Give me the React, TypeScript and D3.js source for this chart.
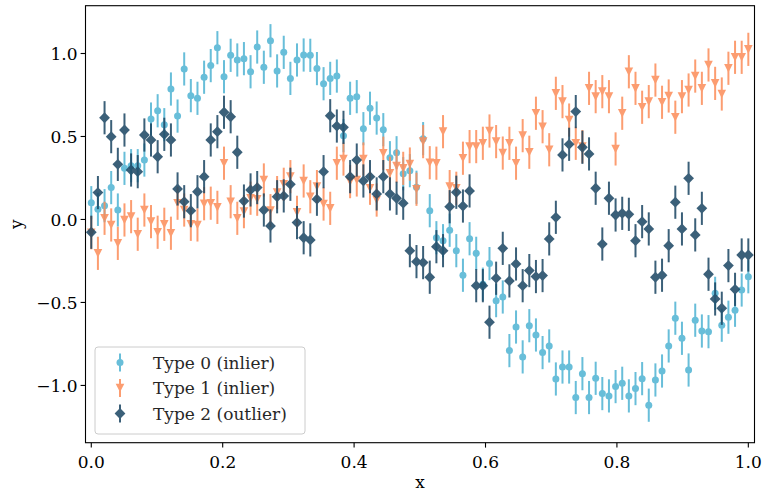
import React from "react";
import * as d3 from "d3";

const N = 100;
const xs: number[] = d3.range(N).map((i) => i / (N - 1));

const type0: number[] = [
  0.101, 0.061, 0.083, 0.192, 0.057, 0.308, 0.324, 0.324, 0.358, 0.605,
  0.655, 0.571, 0.786, 0.623, 0.907, 0.746, 0.730, 0.857, 0.927, 1.035,
  0.860, 0.989, 0.961, 0.969, 0.890, 1.039, 0.917, 1.077, 0.895, 1.007,
  0.850, 0.961, 0.991, 0.989, 0.909, 0.818, 0.850, 0.864, 0.505, 0.730,
  0.740, 0.547, 0.670, 0.611, 0.541, 0.372, 0.402, 0.276, 0.294, 0.194,
  0.487, 0.053, -0.110, -0.128, -0.065, -0.188, -0.336, -0.116, -0.204, -0.39,
  -0.266, -0.489, -0.467, -0.790, -0.648, -0.828, -0.640, -0.696, -0.802, -0.762,
  -0.961, -0.889, -0.889, -1.073, -0.929, -1.073, -0.957, -1.049, -1.063, -1.007,
  -0.987, -1.063, -1.019, -0.959, -1.119, -0.967, -0.913, -0.762, -0.595, -0.716,
  -0.907, -0.607, -0.672, -0.676, -0.445, -0.637, -0.589, -0.547, -0.425, -0.345,
];

const type1: number[] = [
  -0.08, -0.204, 0.007, -0.033, -0.144, -0.003, 0.017, -0.089, 0.057, -0.013,
  -0.077, -0.029, -0.083, 0.098, 0.057, -0.029, -0.033, 0.095, 0.098, 0.073,
  0.339, 0.107, 0.007, 0.047, 0.128, 0.122, 0.238, 0.053, 0.162, 0.212,
  0.258, 0.043, 0.232, 0.137, 0.198, 0.093, 0.067, 0.339, 0.364, 0.228,
  0.238, 0.364, 0.188, 0.117, 0.399, 0.278, 0.322, 0.308, 0.334, 0.182,
  0.469, 0.342, 0.339, 0.529, 0.198, 0.188, 0.369, 0.439, 0.439, 0.459,
  0.533, 0.469, 0.400, 0.459, 0.339, 0.505, 0.405, 0.640, 0.559, 0.420,
  0.760, 0.710, 0.599, 0.459, 0.439, 0.790, 0.740, 0.770, 0.740, 0.425,
  0.640, 0.890, 0.790, 0.676, 0.710, 0.840, 0.706, 0.744, 0.616, 0.740,
  0.780, 0.864, 0.790, 0.931, 0.820, 0.756, 0.911, 0.977, 0.977, 1.025,
];

const type2: number[] = [
  -0.077, 0.162, 0.613, 0.499, 0.332, 0.539, 0.298, 0.288, 0.509, 0.479,
  0.378, 0.513, 0.479, 0.184, 0.107, 0.053, 0.167, 0.258, 0.479, 0.529,
  0.646, 0.619, 0.405, 0.111, 0.178, 0.192, 0.057, -0.039, 0.137, 0.142,
  0.212, -0.019, -0.110, -0.123, 0.122, 0.288, 0.625, 0.563, 0.555, 0.258,
  0.358, 0.232, 0.258, 0.154, 0.258, 0.154, 0.128, 0.098, -0.188, -0.254,
  -0.260, -0.348, -0.164, -0.188, 0.077, 0.164, 0.081, 0.172, -0.399, -0.399,
  -0.619, -0.354, -0.174, -0.370, -0.268, -0.399, -0.308, -0.344, -0.338, -0.117,
  0.013, 0.389, 0.453, 0.650, 0.435, 0.395, 0.188, -0.148, 0.128, 0.027,
  0.037, 0.031, -0.128, -0.013, -0.057, -0.348, -0.336, -0.158, 0.104, -0.057,
  0.248, -0.093, 0.067, -0.330, -0.479, -0.535, -0.278, -0.421, -0.214, -0.214,
];

const yErr = 0.1;
const seriesNames = ["Type 0 (inlier)", "Type 1 (inlier)", "Type 2 (outlier)"];
const xTicks = [0, 0.2, 0.4, 0.6, 0.8, 1.0];
const yTicks = [-1.0, -0.5, 0.0, 0.5, 1.0];

const W = 763;
const H = 492;
const L = 85.5, R = 754.5, T = 5.7, B = 442.7;
const FONT = "'DejaVu Serif', serif";

const colors = ["#4eb3d3", "#fc8d59", "#1a4562"];

const xScale = d3.scaleLinear().domain([-0.0088, 1.0094]).range([L, R]);
const yScale = d3.scaleLinear().domain([-1.345, 1.288]).range([B, T]);

function Marker({ kind, cx, cy, color }: { kind: number; cx: number; cy: number; color: string }) {
  if (kind === 0) return <circle cx={cx} cy={cy} r={3.5} fill={color} />;
  if (kind === 1) {
    const w = 4.3, h = 4.3;
    return <path d={`M${cx},${cy + h}L${cx - w},${cy - h}L${cx + w},${cy - h}Z`} fill={color} />;
  }
  const s = 5.4;
  return <path d={`M${cx},${cy - s}L${cx + s},${cy}L${cx},${cy + s}L${cx - s},${cy}Z`} fill={color} />;
}

function fmt(v: number) {
  const s = Math.abs(v).toFixed(1);
  return v < 0 ? "\u2212" + s : s;
}

export default function App() {
  const all = [type0, type1, type2];
  return (
    <svg width={W} height={H} style={{ position: "absolute", left: 0, top: 0, background: "#fff" }} fontFamily={FONT}>
      <rect x={0} y={0} width={W} height={H} fill="#fff" />
      {all.map((vals, k) => (
        <g key={k} opacity={0.85}>
          {vals.map((v, i) => (
            <line
              key={"e" + i}
              x1={xScale(xs[i])}
              x2={xScale(xs[i])}
              y1={yScale(v - yErr)}
              y2={yScale(v + yErr)}
              stroke={colors[k]}
              strokeWidth={2}
            />
          ))}
          {vals.map((v, i) => (
            <Marker key={"m" + i} kind={k} cx={xScale(xs[i])} cy={yScale(v)} color={colors[k]} />
          ))}
        </g>
      ))}
      <rect x={L} y={T} width={R - L} height={B - T} fill="none" stroke="#000" strokeWidth={1.1} />
      {xTicks.map((t) => (
        <g key={"x" + t}>
          <line x1={xScale(t)} x2={xScale(t)} y1={B} y2={B + 4.9} stroke="#000" strokeWidth={1.1} />
          <text x={xScale(t)} y={B + 25} fontSize={17} textAnchor="middle" fill="#000">
            {fmt(t)}
          </text>
        </g>
      ))}
      {yTicks.map((t) => (
        <g key={"y" + t}>
          <line x1={L - 4.9} x2={L} y1={yScale(t)} y2={yScale(t)} stroke="#000" strokeWidth={1.1} />
          <text x={L - 8} y={yScale(t) + 6.2} fontSize={17} textAnchor="end" fill="#000">
            {fmt(t)}
          </text>
        </g>
      ))}
      <text x={(L + R) / 2} y={488} fontSize={17} textAnchor="middle">x</text>
      <text transform={`translate(22,${(T + B) / 2}) rotate(-90)`} fontSize={17} textAnchor="middle">y</text>
      <g>
        <rect x={95} y={347} width={210} height={87} rx={3} fill="#fff" fillOpacity={0.8} stroke="#ccc" strokeWidth={1} />
        {seriesNames.map((name, k) => {
          const cy = 362.5 + k * 25.5;
          return (
            <g key={name} opacity={0.85}>
              <line x1={120} x2={120} y1={cy - 9} y2={cy + 9} stroke={colors[k]} strokeWidth={2} />
              <Marker kind={k} cx={120} cy={cy} color={colors[k]} />
              <text x={153} y={cy + 6} fontSize={17} fill="#000" opacity={1 / 0.85 > 1 ? 1 : 1}>
                {name}
              </text>
            </g>
          );
        })}
      </g>
    </svg>
  );
}
